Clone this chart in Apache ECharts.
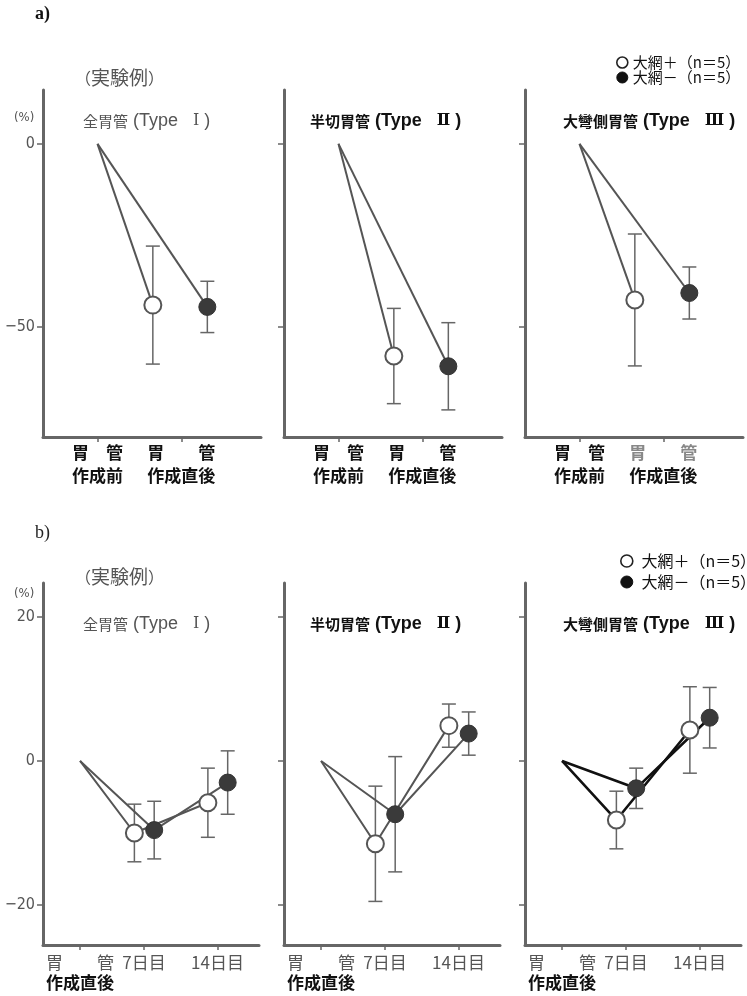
<!DOCTYPE html>
<html><head><meta charset="utf-8">
<script src="https://cdn.jsdelivr.net/npm/echarts@6/dist/echarts.min.js"></script>
<style>html,body{margin:0;padding:0;background:#fff}#c{width:747px;height:996px}</style>
</head><body><div id="c"></div>
<script>
// ---------- data ----------
const CATS_A = ['胃管作成前', '胃管作成直後'];
const CATS_B = ['胃管作成直後', '7日目', '14日目'];
const PANEL_NAMES = ['全胃管', '半切胃管', '大彎側胃管'];
const PANEL_TYPES = ['Ⅰ', 'Ⅱ', 'Ⅲ'];
const SERIES_NAMES = ['大網＋（n＝5）', '大網－（n＝5）'];
const YTICKS_A = [0, -50];
const YTICKS_B = [20, 0, -20];
// a) mean / SD, per panel (Type I, II, III)
const A_OPEN_MEAN = [[0, -44.0], [0, -57.9], [0, -42.6]];
const A_OPEN_SD   = [[0, 16.1], [0, 13.0], [0, 18.0]];
const A_FILL_MEAN = [[0, -44.5], [0, -60.7], [0, -40.7]];
const A_FILL_SD   = [[0, 7.0], [0, 11.9], [0, 7.1]];
// b) mean / SD, per panel
const B_OPEN_MEAN = [[0, -10.0, -5.8], [0, -11.5, 4.9], [0, -8.2, 4.3]];
const B_OPEN_SD   = [[0, 4.0, 4.8], [0, 8.0, 3.0], [0, 4.0, 6.0]];
const B_FILL_MEAN = [[0, -9.6, -3.0], [0, -7.4, 3.8], [0, -3.8, 6.0]];
const B_FILL_SD   = [[0, 4.0, 4.4], [0, 8.0, 3.0], [0, 2.8, 4.2]];

// ---------- layout / style ----------
const CJK = '"Noto Sans CJK JP", sans-serif';
const LAT = '"Liberation Sans", "DejaVu Sans", sans-serif';
const ROMAN = '"DejaVu Serif", "Noto Sans CJK JP", serif';
const NUM = '"DejaVu Sans Condensed", "Liberation Sans Narrow", sans-serif';
const LEFTS = [43, 284, 525];
const POS_A = [0, 1], POS_B = [0, 1, 2.15];
const OFF_A = [-0.34, 0.31], OFF_B = [-0.15, 0.16];
const AXIS_COLOR = '#666';

const ROWS = [
  { top: 90, height: 347, width: 218, xmin: -0.65, xmax: 1.95, ymin: -80, ymax: 14.7,
    pos: POS_A, off: OFF_A, cats: CATS_A, yticks: YTICKS_A,
    open: A_OPEN_MEAN, openSd: A_OPEN_SD, fill: A_FILL_MEAN, fillSd: A_FILL_SD, labelMargin: 4 },
  { top: 583, height: 362, width: 216, xmin: -0.58, xmax: 2.8, ymin: -25.55, ymax: 24.7,
    pos: POS_B, off: OFF_B, cats: CATS_B, yticks: YTICKS_B,
    open: B_OPEN_MEAN, openSd: B_OPEN_SD, fill: B_FILL_MEAN, fillSd: B_FILL_SD, labelMargin: 8 }
];

function xLabel(row, panel, value) {
  const i = ROWS[row].pos.findIndex(p => Math.abs(p - value) < 1e-6);
  if (i < 0) return '';
  const c = ROWS[row].cats[i];
  if (row === 0) {
    const line1 = (i === 0) ? '胃　管' : '胃　　管';
    const st1 = (panel === 2 && i === 1) ? 'gl' : 'k';
    return '{' + st1 + '|' + line1 + '}\n{k|' + c.slice(2) + '}';
  }
  if (i === 0) return '{g|胃　　管}\n{k2|' + c.slice(2) + '}';
  return '{g|' + c + '}';
}

const rich = {
  k:  { fontFamily: CJK, fontSize: 17, fontWeight: 'bold', color: '#111', lineHeight: 23 },
  gl: { fontFamily: CJK, fontSize: 17, fontWeight: 'bold', color: '#888', lineHeight: 23 },
  g:  { fontFamily: CJK, fontSize: 17, color: '#555', lineHeight: 20 },
  k2: { fontFamily: CJK, fontSize: 17, fontWeight: 'bold', color: '#111', lineHeight: 20 }
};

const grid = [], xAxis = [], yAxis = [], series = [];
ROWS.forEach((R, r) => {
  LEFTS.forEach((L, p) => {
    const gi = r * 3 + p;
    grid.push({ left: L, top: R.top, width: R.width, height: R.height, containLabel: false, outerBoundsMode: 'none' });
    xAxis.push({
      gridIndex: gi, type: 'value', min: R.xmin, max: R.xmax,
      axisLine: { show: true, onZero: false, lineStyle: { color: AXIS_COLOR, width: 3 } },
      axisTick: { show: true, customValues: R.pos, length: 5, lineStyle: { color: AXIS_COLOR, width: 1.5 } },
      axisLabel: { show: true, customValues: R.pos, margin: R.labelMargin, hideOverlap: false,
        formatter: v => xLabel(r, p, v), rich: rich },
      splitLine: { show: false }
    });
    yAxis.push({
      gridIndex: gi, type: 'value', min: R.ymin, max: R.ymax,
      axisLine: { show: true, onZero: false, lineStyle: { color: AXIS_COLOR, width: 3 } },
      axisTick: { show: true, customValues: R.yticks, length: 6, lineStyle: { color: AXIS_COLOR, width: 1.5 } },
      axisLabel: { show: p === 0, customValues: R.yticks, margin: 8, color: '#555', fontSize: 16, fontFamily: NUM,
        formatter: v => (v < 0 ? '−' + (-v) : String(v)) },
      splitLine: { show: false }
    });
    const lineColor = (r === 1 && p === 2) ? '#111' : '#555';
    const lineWidth = (r === 1 && p === 2) ? 2.6 : 2;
    const groups = [
      { mean: R.open[p], sd: R.openSd[p], off: R.off[0], name: SERIES_NAMES[0],
        item: { color: '#fff', borderColor: '#555', borderWidth: 2 } },
      { mean: R.fill[p], sd: R.fillSd[p], off: R.off[1], name: SERIES_NAMES[1],
        item: { color: '#3a3a3a', borderColor: '#333', borderWidth: 1 } }
    ];
    groups.forEach(G => {
      const xs = R.pos.map((x, i) => i === 0 ? x : x + G.off);
      series.push({
        type: 'custom', xAxisIndex: gi, yAxisIndex: gi, z: 2, silent: true,
        data: G.mean.map((m, i) => [xs[i], m - G.sd[i], m + G.sd[i]]).slice(1),
        encode: { x: 0, y: [1, 2] },
        renderItem: function (params, api) {
          const x = api.value(0);
          const lo = api.coord([x, api.value(1)]);
          const hi = api.coord([x, api.value(2)]);
          const hw = 7;
          const st = { stroke: '#666', lineWidth: 1.5 };
          return { type: 'group', children: [
            { type: 'line', shape: { x1: lo[0], y1: lo[1], x2: hi[0], y2: hi[1] }, style: st },
            { type: 'line', shape: { x1: lo[0] - hw, y1: lo[1], x2: lo[0] + hw, y2: lo[1] }, style: st },
            { type: 'line', shape: { x1: hi[0] - hw, y1: hi[1], x2: hi[0] + hw, y2: hi[1] }, style: st }
          ] };
        }
      });
      series.push({
        type: 'line', name: G.name, xAxisIndex: gi, yAxisIndex: gi, z: 3,
        symbol: 'circle', symbolSize: 17, animation: false,
        data: G.mean.map((m, i) => i === 0 ? { value: [xs[i], m], symbol: 'none' } : [xs[i], m]),
        lineStyle: { color: lineColor, width: lineWidth },
        itemStyle: G.item
      });
    });
  });
});

const legendData = [
  { name: SERIES_NAMES[0], itemStyle: { color: '#fff', borderColor: '#222', borderWidth: 1.6 } },
  { name: SERIES_NAMES[1], itemStyle: { color: '#111', borderColor: '#111', borderWidth: 1 } }
];
const legendA = { orient: 'vertical', icon: 'circle', itemWidth: 11, itemHeight: 11, selectedMode: false,
  left: 616, top: 55, itemGap: 0, padding: 0,
  textStyle: { fontFamily: CJK, fontSize: 15, lineHeight: 14, color: '#111' }, data: legendData };
const legendB = { orient: 'vertical', icon: 'circle', itemWidth: 12, itemHeight: 12, selectedMode: false,
  left: 620, top: 553, itemGap: 5, padding: 0, formatter: n => ' ' + n,
  textStyle: { fontFamily: CJK, fontSize: 16, lineHeight: 16, color: '#111' }, data: legendData };

function txt(t, x, y, font, fill, richStyles) {
  return { type: 'text', x: x, y: y, silent: true,
    style: { text: t, font: font, fill: fill, verticalAlign: 'middle', align: 'left', rich: richStyles || {} } };
}
function titleText(p, x, y) {
  const bold = p > 0;
  const col = bold ? '#111' : '#555';
  const w = bold ? 'bold' : 'normal';
  const rs = {
    c: { fontFamily: CJK, fontSize: 15, fontWeight: w, fill: col, lineHeight: 20, verticalAlign: 'middle' },
    t: { fontFamily: LAT, fontSize: 18, fontWeight: w, fill: col, lineHeight: 20, verticalAlign: 'middle' },
    r: { fontFamily: ROMAN, fontSize: 16, fontWeight: bold ? 'bold' : 'normal', fill: col, lineHeight: 20, verticalAlign: 'middle' }
  };
  return txt('{c|' + PANEL_NAMES[p] + '}{t| (Type   }{r|' + PANEL_TYPES[p] + '}{t| )}', x, y, '15px ' + CJK, col, rs);
}
const jikken = {
  p: { fontFamily: CJK, fontSize: 16, fill: '#555', lineHeight: 22, verticalAlign: 'middle' },
  c: { fontFamily: CJK, fontSize: 19, fill: '#555', lineHeight: 22, verticalAlign: 'middle' }
};
const graphic = [
  txt('a)', 35, 14, 'bold 18px "Liberation Serif", serif', '#111'),
  txt('b)', 35, 533, '18px "Liberation Serif", serif', '#222'),
  txt('{p|（}{c|実験例}{p|）}', 75, 78, '16px ' + CJK, '#555', jikken),
  txt('{p|（}{c|実験例}{p|）}', 75, 577, '16px ' + CJK, '#555', jikken),
  txt('(%)', 14, 118, '13px ' + NUM, '#555'),
  txt('(%)', 14, 594, '13px ' + NUM, '#555')
];
[121, 624].forEach(y => {
  graphic.push(titleText(0, 83, y));
  graphic.push(titleText(1, 310, y));
  graphic.push(titleText(2, 563, y));
});

const chart = echarts.init(document.getElementById('c'), null, { renderer: 'canvas' });
chart.setOption({
  animation: false,
  backgroundColor: '#fff',
  grid: grid, xAxis: xAxis, yAxis: yAxis, series: series,
  legend: [legendA, legendB],
  graphic: graphic
});
</script></body></html>
